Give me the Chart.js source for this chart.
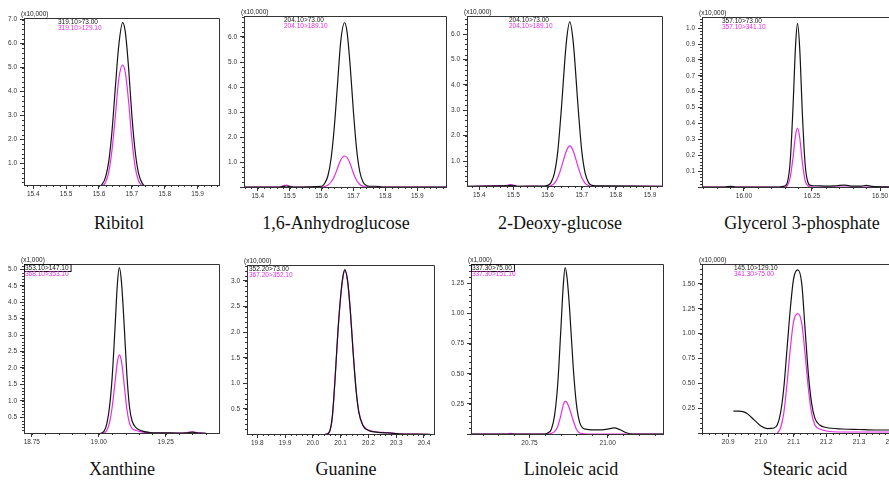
<!DOCTYPE html>
<html>
<head>
<meta charset="utf-8">
<script src="https://cdn.jsdelivr.net/npm/chart.js@4"></script>
<style>
  html, body { margin: 0; padding: 0; background: #fff; }
  body { width: 889px; height: 486px; overflow: hidden; position: relative; }
  canvas { position: absolute; }
  .cap { position: absolute; font-family: "Liberation Serif", "Times New Roman", serif; font-size: 18px; line-height: 18px; color: #111; white-space: nowrap; transform: translateX(-50%); }
</style>
</head>
<body>
<div class="cap" style="left:119px;top:214px">Ribitol</div>
<div class="cap" style="left:336px;top:214px">1,6-Anhydroglucose</div>
<div class="cap" style="left:560px;top:214px">2-Deoxy-glucose</div>
<div class="cap" style="left:802px;top:214px">Glycerol 3-phosphate</div>
<div class="cap" style="left:122px;top:460px">Xanthine</div>
<div class="cap" style="left:346px;top:460px">Guanine</div>
<div class="cap" style="left:571px;top:460px">Linoleic acid</div>
<div class="cap" style="left:805px;top:460px">Stearic acid</div>
<script>
// retention time (min) and intensity of the two transitions, per compound
const ribitolTime  = [15.372, 15.55, 15.60, 15.61, 15.62, 15.63, 15.64, 15.65, 15.66, 15.672, 15.68, 15.69, 15.70, 15.71, 15.72, 15.73, 15.74, 15.80, 15.965];
const ribitolQuant = [0, 0, 0.03, 0.13, 0.42, 1.1, 2.4, 4.2, 5.9, 6.88, 6.5, 5.0, 3.0, 1.5, 0.6, 0.2, 0.05, 0, 0];
const ribitolQual  = [0, 0, 0, 0.04, 0.2, 0.65, 1.6, 3.0, 4.5, 5.1, 4.8, 3.6, 2.0, 0.85, 0.28, 0.07, 0, 0, 0];

const anhydroTime  = [15.357, 15.47, 15.48, 15.49, 15.50, 15.51, 15.60, 15.61, 15.62, 15.63, 15.64, 15.65, 15.66, 15.672, 15.68, 15.69, 15.70, 15.71, 15.72, 15.73, 15.74, 15.75, 15.77, 15.79, 15.99];
const anhydroQuant = [0, 0, 0.02, 0.04, 0.02, 0, 0.03, 0.15, 0.45, 1.15, 2.4, 4.1, 5.8, 6.57, 6.2, 4.8, 3.0, 1.5, 0.6, 0.2, 0.06, 0.03, 0.03, 0, 0];
const anhydroQual  = [0, 0, 0.06, 0.08, 0.03, 0, 0, 0.02, 0.08, 0.2, 0.42, 0.75, 1.08, 1.24, 1.18, 0.92, 0.55, 0.26, 0.1, 0.03, 0, 0, 0, 0, 0];

const deoxyTime  = [15.364, 15.48, 15.49, 15.50, 15.51, 15.59, 15.60, 15.61, 15.62, 15.63, 15.64, 15.655, 15.665, 15.675, 15.69, 15.70, 15.71, 15.72, 15.73, 15.74, 15.77, 15.935];
const deoxyQuant = [0, 0.02, 0.04, 0.03, 0, 0.01, 0.04, 0.15, 0.52, 1.4, 3.0, 5.7, 6.49, 5.7, 3.0, 1.4, 0.52, 0.15, 0.04, 0.02, 0.02, 0];
const deoxyQual  = [0, 0.04, 0.07, 0.05, 0, 0, 0, 0.03, 0.12, 0.35, 0.74, 1.4, 1.6, 1.4, 0.74, 0.35, 0.12, 0.03, 0, 0, 0, 0];

const g3pTime  = [15.846, 15.93, 15.95, 15.97, 16.13, 16.14, 16.15, 16.16, 16.17, 16.18, 16.19, 16.197, 16.205, 16.215, 16.225, 16.235, 16.245, 16.255, 16.27, 16.30, 16.34, 16.37, 16.40, 16.43, 16.45, 16.47, 16.555];
const g3pQuant = [0, 0, 0.004, 0, 0, 0.003, 0.006, 0.03, 0.16, 0.49, 0.9, 1.03, 0.87, 0.45, 0.14, 0.03, 0.01, 0.008, 0.008, 0.005, 0.008, 0.012, 0.005, 0.006, 0.01, 0.004, 0];
const g3pQual  = [0, 0, 0, 0, 0, 0, 0, 0.01, 0.06, 0.18, 0.33, 0.37, 0.31, 0.15, 0.04, 0.008, 0, 0, 0, 0, 0, 0, 0, 0, 0, 0, 0];

const xanthineTime  = [18.721, 18.98, 19.00, 19.01, 19.02, 19.03, 19.04, 19.05, 19.06, 19.07, 19.077, 19.085, 19.095, 19.105, 19.115, 19.125, 19.14, 19.16, 19.19, 19.22, 19.27, 19.30, 19.33, 19.35, 19.37, 19.40, 19.449];
const xanthineQuant = [0, 0, 0, 0.02, 0.08, 0.3, 0.8, 1.7, 3.1, 4.6, 5.05, 4.6, 3.3, 1.8, 0.8, 0.38, 0.18, 0.09, 0.04, 0.03, 0.03, 0.02, 0.03, 0.05, 0.02, 0.01, 0];
const xanthineQual  = [0, 0, 0, 0, 0.02, 0.1, 0.33, 0.8, 1.5, 2.2, 2.4, 2.2, 1.5, 0.75, 0.32, 0.16, 0.1, 0.06, 0.03, 0.02, 0.02, 0.02, 0.04, 0.06, 0.03, 0.01, 0];

const guanineTime  = [19.763, 20.04, 20.05, 20.06, 20.07, 20.08, 20.09, 20.10, 20.108, 20.115, 20.125, 20.135, 20.145, 20.155, 20.165, 20.18, 20.20, 20.23, 20.26, 20.28, 20.30, 20.35, 20.42, 20.436];
const guanineQuant = [0, 0, 0.01, 0.06, 0.35, 1.1, 2.0, 2.7, 3.08, 3.22, 3.0, 2.4, 1.6, 0.9, 0.45, 0.18, 0.08, 0.05, 0.035, 0.03, 0.02, 0.01, 0.005, 0];
const guanineQual  = [0, 0, 0.01, 0.05, 0.33, 1.08, 1.98, 2.68, 3.06, 3.2, 3.0, 2.42, 1.62, 0.92, 0.46, 0.19, 0.09, 0.05, 0.04, 0.035, 0.02, 0.01, 0.005, 0];

const linoleicTime  = [20.563, 20.68, 20.69, 20.70, 20.80, 20.81, 20.82, 20.83, 20.84, 20.85, 20.858, 20.864, 20.87, 20.878, 20.89, 20.90, 20.91, 20.92, 20.93, 20.95, 20.98, 21.00, 21.02, 21.04, 21.06, 21.08, 21.177];
const linoleicQuant = [0, 0, 0, 0, 0, 0.01, 0.04, 0.15, 0.4, 0.85, 1.23, 1.38, 1.3, 1.05, 0.55, 0.25, 0.1, 0.05, 0.04, 0.035, 0.035, 0.04, 0.05, 0.035, 0.01, 0, 0];
const linoleicQual  = [0, 0, 0.006, 0, 0, 0, 0.005, 0.02, 0.06, 0.15, 0.24, 0.27, 0.26, 0.21, 0.11, 0.04, 0.01, 0.003, 0, 0, 0, 0, 0, 0, 0, 0, 0];

const stearicTime  = [20.82, 20.916, 20.93, 20.95, 20.96, 20.98, 21.00, 21.02, 21.04, 21.05, 21.06, 21.07, 21.08, 21.09, 21.10, 21.113, 21.125, 21.135, 21.145, 21.155, 21.165, 21.18, 21.20, 21.25, 21.30, 21.35, 21.41];
const stearicQuant = [null, 0.22, 0.22, 0.21, 0.19, 0.13, 0.07, 0.045, 0.05, 0.08, 0.2, 0.45, 0.85, 1.25, 1.55, 1.64, 1.5, 1.05, 0.6, 0.3, 0.15, 0.08, 0.055, 0.04, 0.035, 0.03, 0.03];
const stearicQual  = [null, null, null, null, null, null, null, null, null, 0, 0.05, 0.2, 0.5, 0.85, 1.12, 1.2, 1.1, 0.8, 0.45, 0.2, 0.08, 0.04, 0.02, 0.01, 0.01, 0.01, 0.01];

// transition labels
const ions = [
  ['319.10>73.00', '319.10>129.10'],
  ['204.10>73.00', '204.10>189.10'],
  ['204.10>73.00', '204.10>189.10'],
  ['357.10>73.00', '357.10>341.10'],
  ['353.10>147.10', '368.10>353.10'],
  ['352.20>73.00', '367.20>352.10'],
  ['337.30>75.00', '337.30>151.10'],
  ['145.10>129.10', '341.30>75.00']
];
const units = ['(x10,000)', '(x10,000)', '(x10,000)', '(x10,000)', '(x1,000)', '(x10,000)', '(x1,000)', '(x10,000)'];

const YW = 22, XH = 16, PAD_T = 12, PAD_R = 2;
const BLACK = '#141414', PINK = '#e62ee6';

// plot box [left, top, right, bottom] in page px, axis ranges and steps
const panels = [
  { t: ribitolTime, a: ribitolQuant, b: ribitolQual, box: [24, 18, 219, 185], x: [15.372, 15.965, 0.1, 0.02, 1], y: [0.09, 7.07, 1, 0.2, 1], lx: 34 },
  { t: anhydroTime, a: anhydroQuant, b: anhydroQual, box: [244, 16, 446, 187], x: [15.357, 15.99, 0.1, 0.02, 1], y: [0, 6.84, 1, 0.2, 1], lx: 40 },
  { t: deoxyTime, a: deoxyQuant, b: deoxyQual, box: [467, 16, 662, 186], x: [15.364, 15.935, 0.1, 0.02, 1], y: [0.016, 6.72, 1, 0.2, 1], lx: 42 },
  { t: g3pTime, a: g3pQuant, b: g3pQual, box: [702, 17, 895, 187], x: [15.846, 16.555, 0.25, 0.05, 2], y: [0, 1.07, 0.1, 0.02, 1], lx: 20 },
  { t: xanthineTime, a: xanthineQuant, b: xanthineQual, box: [24, 264, 219, 433], x: [18.721, 19.449, 0.25, 0.05, 2], y: [0.024, 5.16, 0.5, 0.1, 1], lx: 1, boxed: true },
  { t: guanineTime, a: guanineQuant, b: guanineQual, box: [247, 265, 434, 434], x: [19.763, 20.436, 0.1, 0.02, 1], y: [0.012, 3.31, 0.5, 0.1, 1], lx: 2 },
  { t: linoleicTime, a: linoleicQuant, b: linoleicQual, box: [471, 264, 663, 434], x: [20.563, 21.177, 0.25, 0.05, 2], y: [0, 1.41, 0.25, 0.05, 2], lx: 1, boxed: true },
  { t: stearicTime, a: stearicQuant, b: stearicQual, box: [702, 264, 895, 433], x: [20.82, 21.41, 0.1, 0.02, 1], y: [0, 1.70, 0.25, 0.05, 2], lx: 32 }
];

Chart.defaults.font.family = '"Liberation Sans", Arial, sans-serif';
Chart.defaults.font.size = 6.5;
Chart.defaults.color = '#333';

function minorTicks(ctx, scale, step, draw) {
  const i0 = Math.ceil(scale.min / step - 1e-6), i1 = Math.floor(scale.max / step + 1e-6);
  for (let i = i0; i <= i1; i++) draw(Math.round(scale.getPixelForValue(i * step)) + 0.5);
}

const frame = {
  id: 'frame',
  afterDraw(chart, args, o) {
    const { ctx, chartArea: a, scales: { x, y } } = chart;
    ctx.save();
    ctx.strokeStyle = '#333';
    ctx.lineWidth = 1;
    ctx.beginPath();
    ctx.moveTo(a.left, Math.round(a.top) + 0.5);
    ctx.lineTo(Math.round(a.right) + 0.5, Math.round(a.top) + 0.5);
    ctx.lineTo(Math.round(a.right) + 0.5, a.bottom);
    minorTicks(ctx, x, o.xMinor, px => { ctx.moveTo(px, a.bottom); ctx.lineTo(px, a.bottom + 2); });
    minorTicks(ctx, y, o.yMinor, py => { ctx.moveTo(a.left, py); ctx.lineTo(a.left - 2, py); });
    ctx.stroke();

    ctx.font = '6.5px "Liberation Sans", Arial, sans-serif';
    ctx.textBaseline = 'middle';
    ctx.fillStyle = '#222';
    ctx.fillText(o.unit, a.left - 3, a.top - 4);
    const lx = a.left + o.lx;
    ctx.fillStyle = BLACK;
    ctx.fillText(o.ions[0], lx, a.top + 4);
    if (o.boxed) {
      const w = ctx.measureText(o.ions[0]).width;
      ctx.strokeStyle = '#111';
      ctx.strokeRect(Math.round(a.left) + 0.5, Math.round(a.top) + 0.5, w + lx - a.left + 2, 7);
    }
    ctx.fillStyle = PINK;
    ctx.fillText(o.ions[1], lx, a.top + 10.5);
    ctx.restore();
  }
};

function axis(r, horizontal) {
  const [min, max, step, minor, dec] = r;
  return {
    type: 'linear',
    min, max,
    border: { display: true, color: '#333', width: 1 },
    grid: { drawOnChartArea: false, drawTicks: true, tickLength: 4, color: '#333' },
    ticks: {
      stepSize: step,
      includeBounds: false,
      autoSkip: false,
      maxRotation: 0,
      padding: horizontal ? 1 : 3,
      callback: v => v <= 0 ? '' : v.toFixed(dec)
    },
    afterFit(scale) {
      if (horizontal) scale.height = XH; else scale.width = YW;
      scale.paddingLeft = 0; scale.paddingRight = 0;
      scale.paddingTop = 0; scale.paddingBottom = 0;
    }
  };
}

panels.forEach((p, k) => {
  const [l, t, r, b] = p.box;
  const cv = document.createElement('canvas');
  cv.width = r - l + YW + PAD_R;
  cv.height = b - t + PAD_T + XH;
  cv.style.left = (l - YW) + 'px';
  cv.style.top = (t - PAD_T) + 'px';
  document.body.appendChild(cv);

  const line = (vals, color) => ({
    data: p.t.map((x, i) => ({ x, y: vals[i] })),
    showLine: true,
    borderColor: color,
    borderWidth: 1.2,
    pointRadius: 0,
    cubicInterpolationMode: 'monotone',
    spanGaps: false
  });

  new Chart(cv.getContext('2d'), {
    type: 'scatter',
    data: { datasets: [line(p.a, BLACK), line(p.b, PINK)] },
    options: {
      responsive: false,
      animation: false,
      layout: { padding: { top: PAD_T, right: PAD_R, left: 0, bottom: 0 } },
      scales: { x: axis(p.x, true), y: axis(p.y, false) },
      plugins: {
        legend: { display: false },
        tooltip: { enabled: false },
        frame: { xMinor: p.x[3], yMinor: p.y[3], unit: units[k], ions: ions[k], lx: p.lx, boxed: p.boxed }
      }
    },
    plugins: [frame]
  });
});
</script>
</body>
</html>
